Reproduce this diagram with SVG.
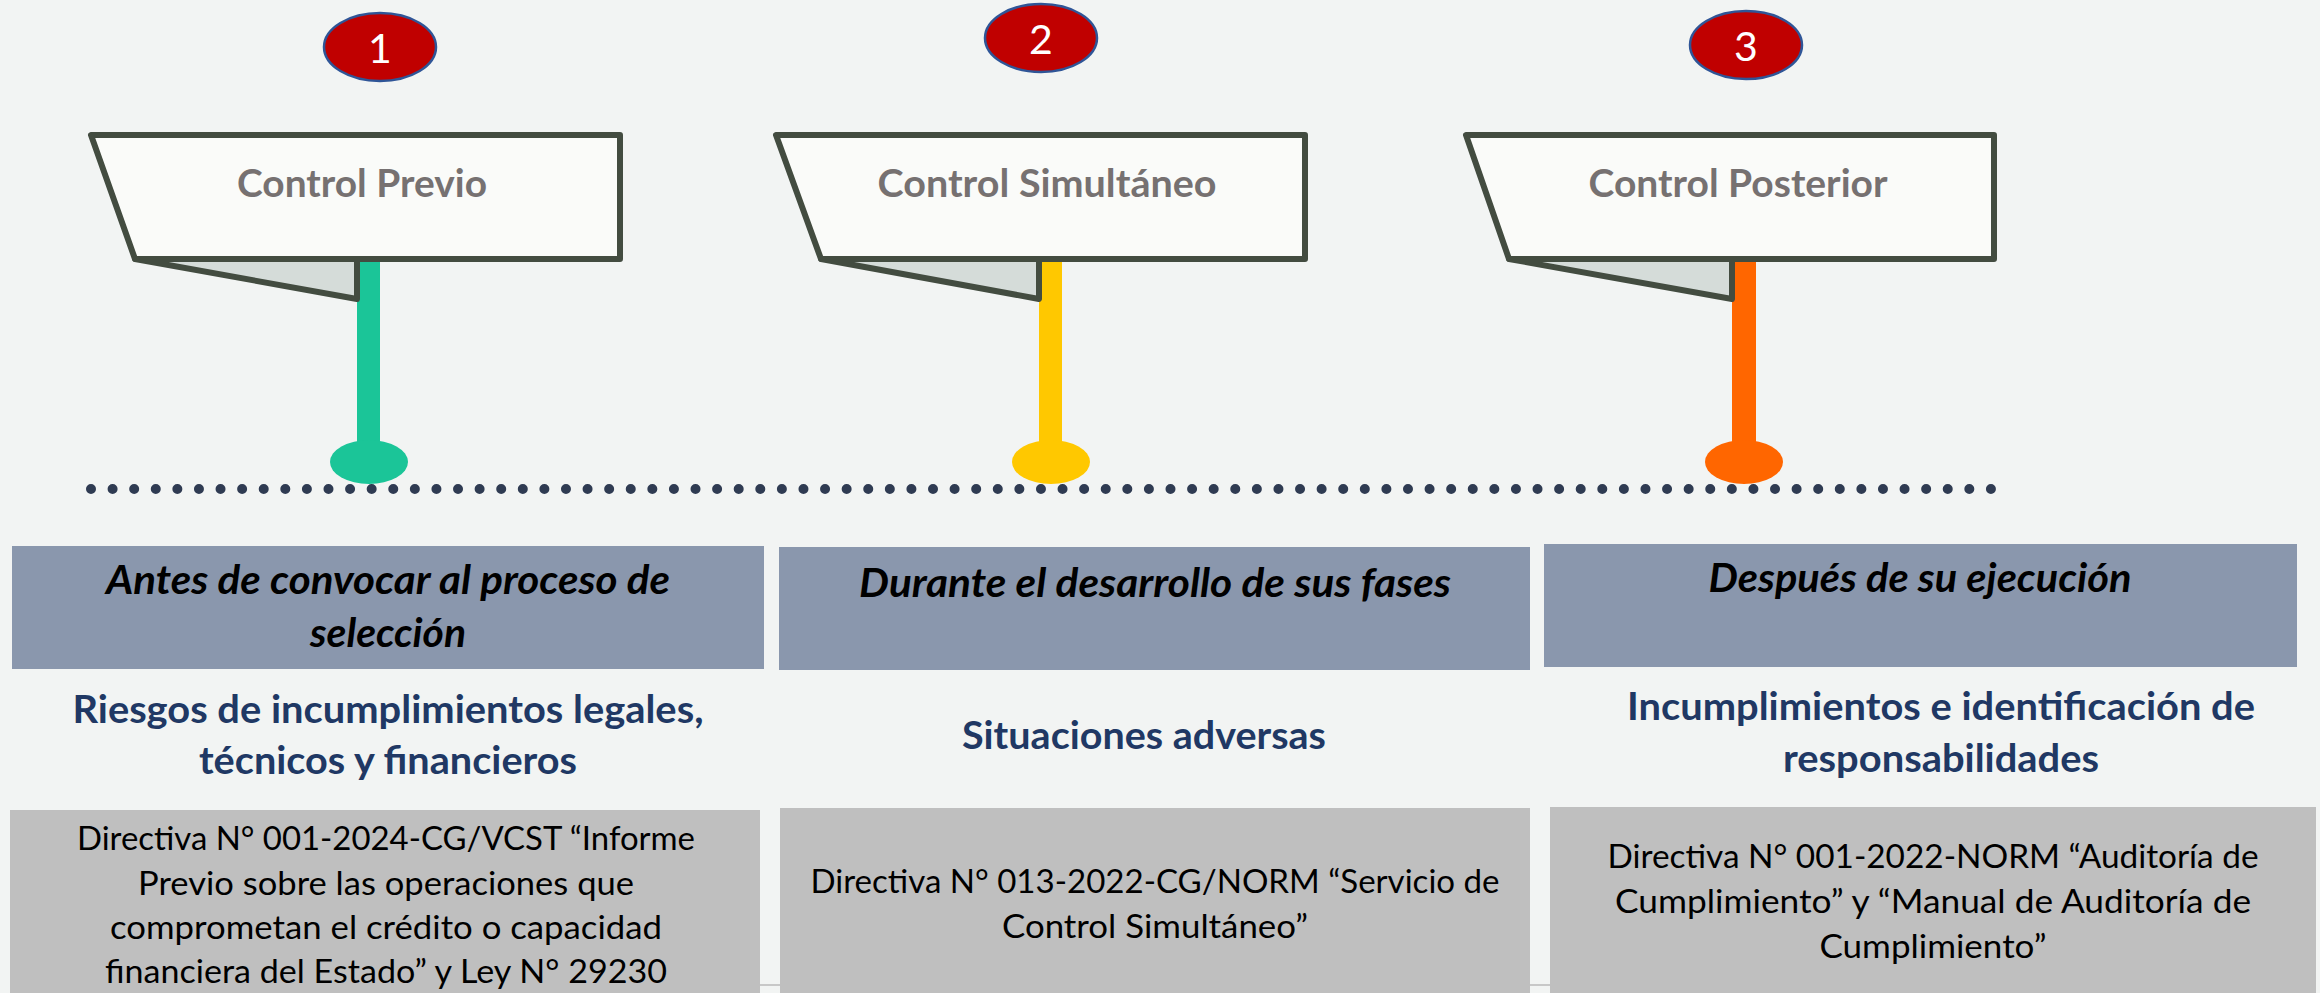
<svg xmlns="http://www.w3.org/2000/svg" width="2320" height="993" viewBox="0 0 2320 993">
<defs>
<style>
.bg{fill:#F2F4F3}
.flag{fill:#FAFBF9;stroke:#434C40;stroke-width:6;stroke-linejoin:round}
.fold{fill:#D5DCD9;stroke:#434C40;stroke-width:6;stroke-linejoin:round}
.badge{fill:#C00000;stroke:#2F5597;stroke-width:2.5}
.num{font-family:Lato,"Liberation Sans",sans-serif;font-size:41px;fill:#FFFFFF;text-anchor:middle}
.lbl{font-family:Lato,"Liberation Sans",sans-serif;font-size:39px;font-weight:bold;fill:#767171;text-anchor:middle}
.hdr{fill:#8A97AD}
.htx{font-family:Lato,"Liberation Sans",sans-serif;font-size:40px;font-weight:bold;font-style:italic;fill:#000;text-anchor:middle}
.btx{font-family:Lato,"Liberation Sans",sans-serif;font-size:39px;font-weight:bold;fill:#203864;text-anchor:middle}
.gbox{fill:#BFBFBF}
.gtx{font-family:Lato,"Liberation Sans",sans-serif;font-size:33px;fill:#000;text-anchor:middle}
</style>
</defs>
<rect class="bg" x="0" y="0" width="2320" height="993"/>
<line x1="760" y1="985" x2="1550" y2="985" stroke="#C8C8C8" stroke-width="2"/>

<g id="timeline">
<line x1="91" y1="489" x2="1991" y2="489" stroke="#2F3B52" stroke-width="10" stroke-linecap="round" stroke-dasharray="0 21.59"/>
</g>

<g id="connectors">
<rect x="357" y="259" width="23" height="203" fill="#1BC598"/>
<ellipse cx="369" cy="462" rx="39" ry="22" fill="#1BC598"/>
<rect x="1039" y="259" width="23" height="203" fill="#FFC800"/>
<ellipse cx="1051" cy="462" rx="39" ry="22" fill="#FFC800"/>
<rect x="1732" y="259" width="24" height="203" fill="#FF6600"/>
<ellipse cx="1744" cy="462" rx="39" ry="22" fill="#FF6600"/>
</g>

<g id="badge1">
<ellipse class="badge" cx="380" cy="47" rx="56" ry="34"/>
<text class="num" x="380" y="63">1</text>
</g>
<g id="badge2">
<ellipse class="badge" cx="1041" cy="38" rx="56" ry="34"/>
<text class="num" x="1041" y="54">2</text>
</g>
<g id="badge3">
<ellipse class="badge" cx="1746" cy="45" rx="56" ry="34"/>
<text class="num" x="1746" y="61">3</text>
</g>

<g id="flag1">
<path class="fold" d="M135,259 L357,299 L357,259 Z"/>
<path class="flag" d="M91,135 L620,135 L620,259 L135,259 Z"/>
<text class="lbl" x="362" y="197" textLength="250" lengthAdjust="spacingAndGlyphs">Control Previo</text>
</g>
<g id="flag2">
<path class="fold" d="M821,259 L1039,299 L1039,259 Z"/>
<path class="flag" d="M776,135 L1305,135 L1305,259 L821,259 Z"/>
<text class="lbl" x="1047" y="197" textLength="339" lengthAdjust="spacingAndGlyphs">Control Simultáneo</text>
</g>
<g id="flag3">
<path class="fold" d="M1509,259 L1732,299 L1732,259 Z"/>
<path class="flag" d="M1466,135 L1994,135 L1994,259 L1509,259 Z"/>
<text class="lbl" x="1738" y="197" textLength="299" lengthAdjust="spacingAndGlyphs">Control Posterior</text>
</g>

<g id="col1">
<rect class="hdr" x="12" y="546" width="752" height="123"/>
<text class="htx" x="388" y="594" textLength="564" lengthAdjust="spacingAndGlyphs">Antes de convocar al proceso de</text>
<text class="htx" x="388" y="647" textLength="156" lengthAdjust="spacingAndGlyphs">selección</text>
<text class="btx" x="388" y="723" textLength="631" lengthAdjust="spacingAndGlyphs">Riesgos de incumplimientos legales,</text>
<text class="btx" x="388" y="774" textLength="378" lengthAdjust="spacingAndGlyphs">técnicos y financieros</text>
<rect class="gbox" x="10" y="810" width="750" height="183"/>
<text class="gtx" x="386" y="850" textLength="618" lengthAdjust="spacingAndGlyphs">Directiva N° 001-2024-CG/VCST “Informe</text>
<text class="gtx" x="386" y="895" textLength="496" lengthAdjust="spacingAndGlyphs">Previo sobre las operaciones que</text>
<text class="gtx" x="386" y="939" textLength="552" lengthAdjust="spacingAndGlyphs">comprometan el crédito o capacidad</text>
<text class="gtx" x="386" y="983" textLength="562" lengthAdjust="spacingAndGlyphs">financiera del Estado” y Ley N° 29230</text>
</g>

<g id="col2">
<rect class="hdr" x="779" y="547" width="751" height="123"/>
<text class="htx" x="1155" y="597" textLength="592" lengthAdjust="spacingAndGlyphs">Durante el desarrollo de sus fases</text>
<text class="btx" x="1144" y="749" textLength="364" lengthAdjust="spacingAndGlyphs">Situaciones adversas</text>
<rect class="gbox" x="780" y="808" width="750" height="185"/>
<text class="gtx" x="1155" y="893" textLength="689" lengthAdjust="spacingAndGlyphs">Directiva N° 013-2022-CG/NORM “Servicio de</text>
<text class="gtx" x="1155" y="938" textLength="306" lengthAdjust="spacingAndGlyphs">Control Simultáneo”</text>
</g>

<g id="col3">
<rect class="hdr" x="1544" y="544" width="753" height="123"/>
<text class="htx" x="1920" y="592" textLength="423" lengthAdjust="spacingAndGlyphs">Después de su ejecución</text>
<text class="btx" x="1941" y="720" textLength="628" lengthAdjust="spacingAndGlyphs">Incumplimientos e identificación de</text>
<text class="btx" x="1941" y="772" textLength="316" lengthAdjust="spacingAndGlyphs">responsabilidades</text>
<rect class="gbox" x="1550" y="807" width="766" height="186"/>
<text class="gtx" x="1933" y="868" textLength="651" lengthAdjust="spacingAndGlyphs">Directiva N° 001-2022-NORM “Auditoría de</text>
<text class="gtx" x="1933" y="913" textLength="636" lengthAdjust="spacingAndGlyphs">Cumplimiento” y “Manual de Auditoría de</text>
<text class="gtx" x="1933" y="958" textLength="227" lengthAdjust="spacingAndGlyphs">Cumplimiento”</text>
</g>
</svg>
